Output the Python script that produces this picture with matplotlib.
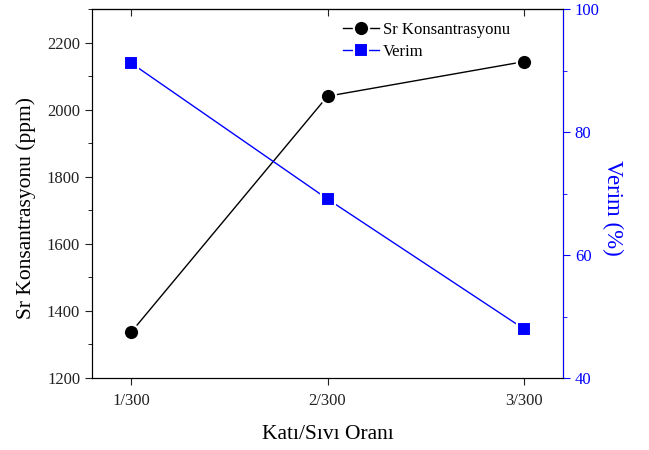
import matplotlib
import matplotlib.pyplot as plt
from matplotlib.ticker import MultipleLocator

matplotlib.use("Agg")

plt.rcParams["font.family"] = ["Liberation Serif", "DejaVu Serif"]

ratios = ["1/300", "2/300", "3/300"]
x_pos = [1, 2, 3]
sr_ppm = [1337, 2040, 2143]
verim_pct = [91.2, 69.1, 48.0]

fig = plt.figure(figsize=(6.49, 4.5), dpi=100)
ax = fig.add_axes([0.1418, 0.16, 0.7257, 0.82])

ax.plot(x_pos, sr_ppm, color="black", linewidth=1.0, marker="o", markersize=11,
        markerfacecolor="black", markeredgecolor="white", markeredgewidth=1.5,
        label="Sr Konsantrasyonu")
ax.set_xlim(0.8, 3.2)
ax.set_ylim(1200, 2300)
ax.set_xticks(x_pos)
ax.set_xticklabels(ratios)
ax.yaxis.set_major_locator(MultipleLocator(200))
ax.yaxis.set_minor_locator(MultipleLocator(100))
ax.tick_params(axis="both", which="major", labelsize=12, length=5, direction="out",
               colors="#222222")
ax.tick_params(axis="x", pad=6)
ax.tick_params(axis="y", which="minor", length=3, direction="out")

# inward ticks along the top spine, no labels
top = ax.secondary_xaxis("top")
top.set_xticks(x_pos)
top.tick_params(direction="in", length=5, labeltop=False, colors="#222222")

ax.set_xlabel("Katı/Sıvı Oranı", fontsize=15.5, labelpad=11)
ax.set_ylabel("Sr Konsantrasyonu (ppm)", fontsize=15.5)
ax.yaxis.set_label_coords(-0.12, 0.46)

ax2 = ax.twinx()
ax2.plot(x_pos, verim_pct, color="#0000FF", linewidth=1.0, marker="s", markersize=10,
         markerfacecolor="#0000FF", markeredgecolor="white", markeredgewidth=1.5,
         label="Verim")
ax2.set_ylim(40, 100)
ax2.yaxis.set_major_locator(MultipleLocator(20))
ax2.yaxis.set_minor_locator(MultipleLocator(10))
ax2.tick_params(axis="y", which="major", labelsize=12, length=5, direction="out",
                colors="#0000FF")
ax2.tick_params(axis="y", which="minor", length=3, direction="out", colors="#0000FF")
ax2.spines["right"].set_color("#0000FF")
ax2.set_ylabel("Verim (%)", fontsize=16.5, color="#0000FF", rotation=270)
ax2.yaxis.set_label_coords(1.127, 0.46)

handles = ax.get_lines()[:1] + ax2.get_lines()[:1]
ax2.legend(handles, [h.get_label() for h in handles], loc="upper left",
           bbox_to_anchor=(0.5, 1.005), frameon=False, fontsize=12,
           handlelength=2.2, handletextpad=0.2, labelspacing=0.35)

fig.savefig("out.png", dpi=100)
